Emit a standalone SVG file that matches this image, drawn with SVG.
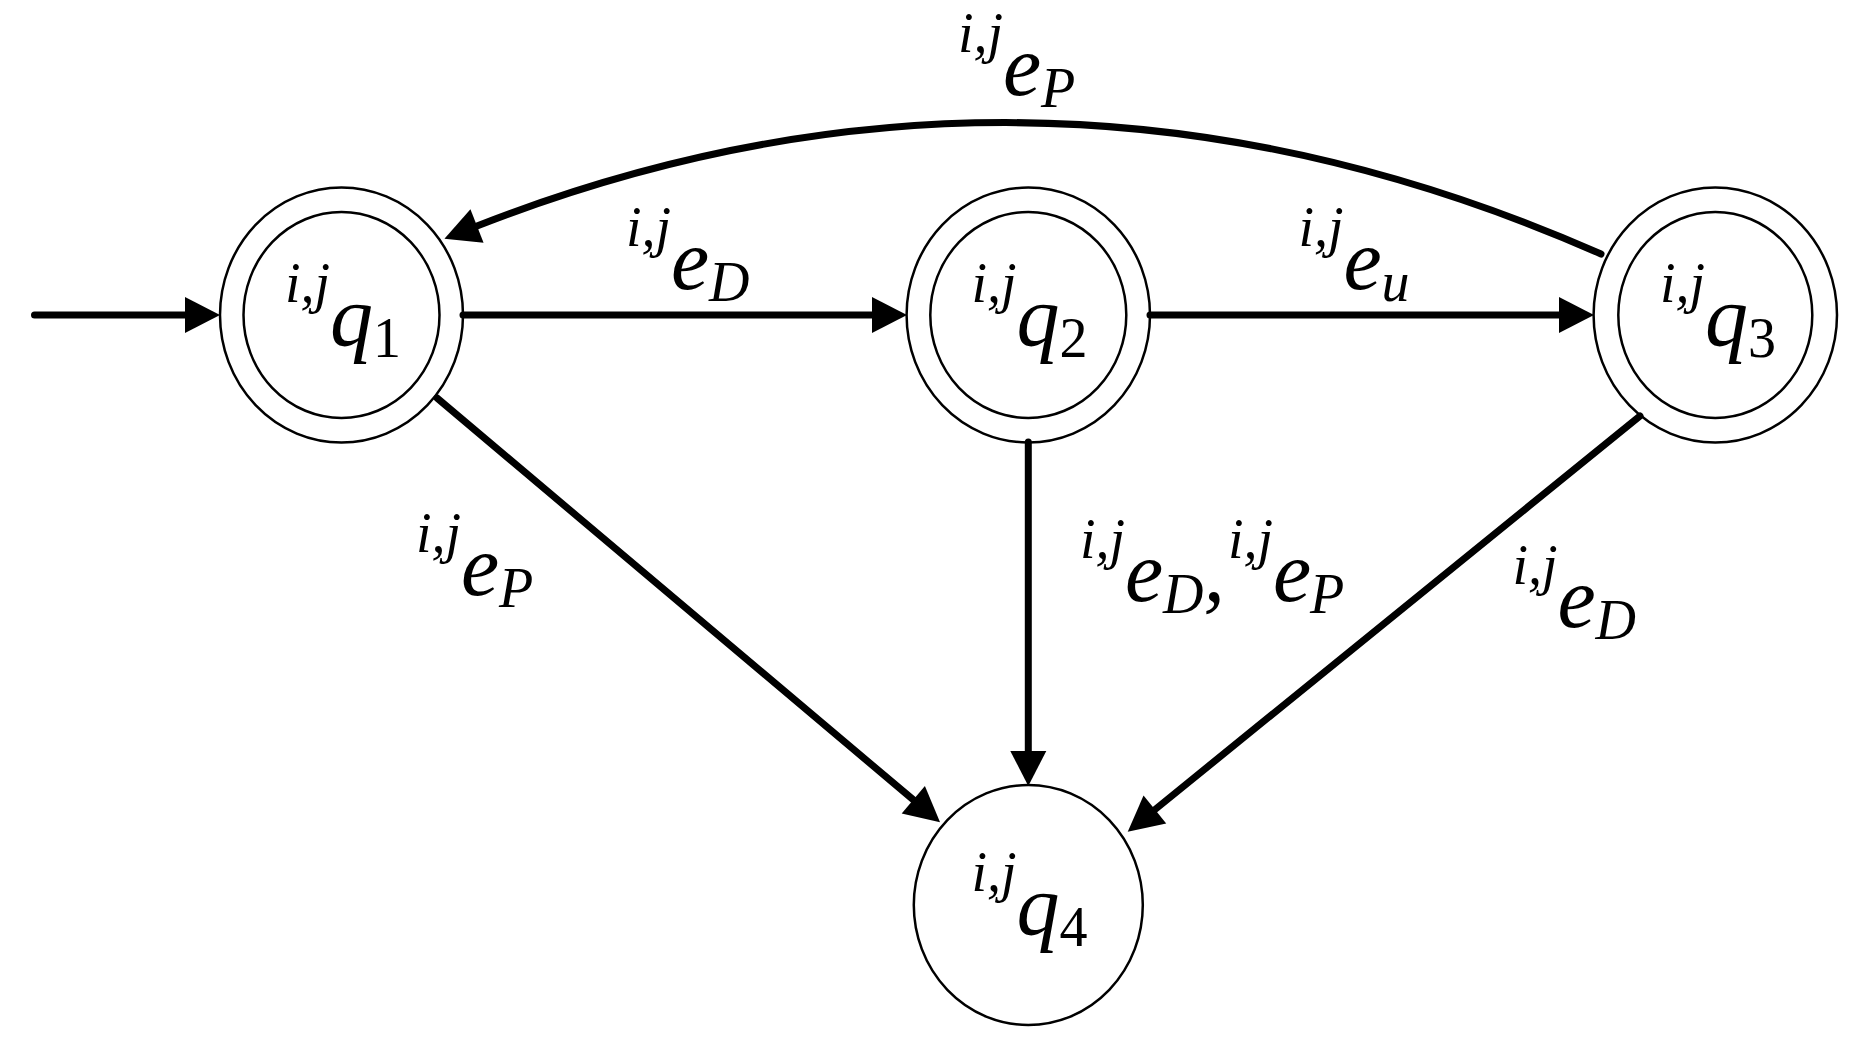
<svg xmlns="http://www.w3.org/2000/svg" width="1864" height="1058" viewBox="0 0 1864 1058">
<defs>
<style>
.st{fill:none;stroke:#000;stroke-width:2.5}
.cn{fill:none;stroke:#000;stroke-width:7;stroke-linecap:round}
</style>
<marker id="ah" markerUnits="userSpaceOnUse" markerWidth="35" markerHeight="36" refX="0" refY="18" orient="auto" viewBox="0 0 35 36" overflow="visible">
<path d="M0,0 L35,18 L0,36 Z" fill="#000"/>
</marker>
</defs>
<rect width="1864" height="1058" fill="#fff"/>
<g id="connectors">
<path class="cn" d="M34.5,315 H185" marker-end="url(#ah)"/>
<path class="cn" d="M463,315 H872" marker-end="url(#ah)"/>
<path class="cn" d="M1150,315 H1559" marker-end="url(#ah)"/>
<path class="cn" d="M1601,254 Q1039,6 477,226" marker-end="url(#ah)"/>
<path class="cn" d="M437,398 L913.3,799.8" marker-end="url(#ah)"/>
<path class="cn" d="M1028.3,442 V751" marker-end="url(#ah)"/>
<path class="cn" d="M1640,416 L1154.9,809.6" marker-end="url(#ah)"/>
</g>
<g id="edge-labels" fill="#000">
<g id="lbl-q1q2">
<text x="626" y="246" font-family="Liberation Serif" font-style="italic" font-size="56">i,j</text>
<text x="671" y="289" font-family="Liberation Serif" font-style="italic" font-size="86">e</text>
<text x="709" y="301" font-family="Liberation Serif" font-style="italic" font-size="56">D</text>
</g>
<g id="lbl-q2q3">
<text x="1298.5" y="246" font-family="Liberation Serif" font-style="italic" font-size="56">i,j</text>
<text x="1343.5" y="289" font-family="Liberation Serif" font-style="italic" font-size="86">e</text>
<text x="1381.5" y="301" font-family="Liberation Serif" font-style="italic" font-size="56">u</text>
</g>
<g id="lbl-q3q1">
<text x="958" y="52" font-family="Liberation Serif" font-style="italic" font-size="56">i,j</text>
<text x="1003" y="95" font-family="Liberation Serif" font-style="italic" font-size="86">e</text>
<text x="1041" y="107" font-family="Liberation Serif" font-style="italic" font-size="56">P</text>
</g>
<g id="lbl-q1q4">
<text x="416" y="552" font-family="Liberation Serif" font-style="italic" font-size="56">i,j</text>
<text x="461" y="595" font-family="Liberation Serif" font-style="italic" font-size="86">e</text>
<text x="499" y="607" font-family="Liberation Serif" font-style="italic" font-size="56">P</text>
</g>
<g id="lbl-q2q4">
<text x="1080" y="558" font-family="Liberation Serif" font-style="italic" font-size="56">i,j</text>
<text x="1125" y="601" font-family="Liberation Serif" font-style="italic" font-size="86">e</text>
<text x="1163" y="613" font-family="Liberation Serif" font-style="italic" font-size="56">D</text>
<text x="1203.5" y="601" font-family="Liberation Serif" font-style="italic" font-size="86">,</text>
<text x="1228" y="558" font-family="Liberation Serif" font-style="italic" font-size="56">i,j</text>
<text x="1273" y="601" font-family="Liberation Serif" font-style="italic" font-size="86">e</text>
<text x="1310" y="613" font-family="Liberation Serif" font-style="italic" font-size="56">P</text>
</g>
<g id="lbl-q3q4">
<text x="1512.5" y="584" font-family="Liberation Serif" font-style="italic" font-size="56">i,j</text>
<text x="1557.5" y="627" font-family="Liberation Serif" font-style="italic" font-size="86">e</text>
<text x="1595.5" y="639" font-family="Liberation Serif" font-style="italic" font-size="56">D</text>
</g>
</g>
<g id="q1" fill="#000">
<ellipse class="st" cx="341.5" cy="315" rx="121.5" ry="127.5"/>
<ellipse class="st" cx="341.5" cy="315" rx="98" ry="103"/>
<text x="285" y="302" font-family="Liberation Serif" font-style="italic" font-size="56">i,j</text>
<text x="330" y="345" font-family="Liberation Serif" font-style="italic" font-size="86">q</text>
<text x="373" y="357" font-family="Liberation Serif" font-size="56">1</text>
</g>
<g id="q2" fill="#000">
<ellipse class="st" cx="1028.3" cy="315" rx="121.7" ry="127.5"/>
<ellipse class="st" cx="1028.3" cy="315" rx="98" ry="103"/>
<text x="971.5" y="302" font-family="Liberation Serif" font-style="italic" font-size="56">i,j</text>
<text x="1016.5" y="345" font-family="Liberation Serif" font-style="italic" font-size="86">q</text>
<text x="1059.5" y="357" font-family="Liberation Serif" font-size="56">2</text>
</g>
<g id="q3" fill="#000">
<ellipse class="st" cx="1715.3" cy="315" rx="121.7" ry="127.5"/>
<ellipse class="st" cx="1715.3" cy="315" rx="97" ry="103"/>
<text x="1660" y="302" font-family="Liberation Serif" font-style="italic" font-size="56">i,j</text>
<text x="1705" y="345" font-family="Liberation Serif" font-style="italic" font-size="86">q</text>
<text x="1748" y="357" font-family="Liberation Serif" font-size="56">3</text>
</g>
<g id="q4" fill="#000">
<ellipse class="st" cx="1028.3" cy="905" rx="114.5" ry="120"/>
<text x="971.5" y="891" font-family="Liberation Serif" font-style="italic" font-size="56">i,j</text>
<text x="1016.5" y="934" font-family="Liberation Serif" font-style="italic" font-size="86">q</text>
<text x="1059.5" y="946" font-family="Liberation Serif" font-size="56">4</text>
</g>
</svg>
